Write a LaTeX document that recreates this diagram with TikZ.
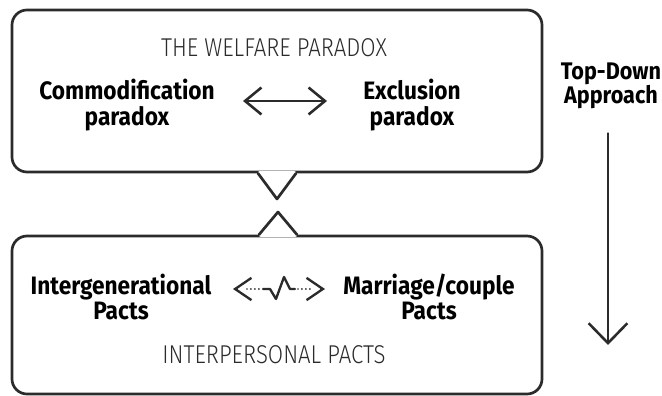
\documentclass[tikz,border=0pt]{standalone}
\usepackage{fontspec}
\setmainfont[FakeStretch=0.9]{Fira Sans}
\newfontfamily\thinfont[FakeStretch=0.86]{Fira Sans Light}
\usetikzlibrary{arrows.meta,positioning,calc}
\definecolor{frame-grey}{rgb}{.17,.17,.17}

\begin{document}
\begin{tikzpicture}[x=0.03cm, y=-0.03cm, line cap=round, line join=round,
  panel/.style={draw=frame-grey, line width=2.3pt, rounded corners=0.45cm, minimum width=15.9cm},
  edge/.style={draw=frame-grey, line width=2.3pt},
  heading/.style={font=\thinfont\fontsize{22}{24}\selectfont, text=frame-grey},
  term/.style={font=\bfseries\fontsize{21.5}{21.5}\selectfont, align=center},
  barb/.style={line width=2.2pt, draw=frame-grey},
  beat/.style={line width=2pt, draw=frame-grey},
  dots/.style={beat, line width=1.7pt, dash pattern=on 0pt off 3.4pt}]
  \useasboundingbox (0,0) rectangle (662,396);

  % welfare panel with its pointer
  \node[panel, minimum height=4.86cm] (welfare) at (277,91) {};
  \coordinate (wtip) at (277,199);
  \draw[white, line width=4pt] ($(welfare.south)+(-17,0)$) -- ($(welfare.south)+(17,0)$);
  \draw[edge] ($(welfare.south)+(-19,0)$) -- (wtip) -- ($(welfare.south)+(19,0)$);

  % pacts panel with its pointer
  \node[panel, minimum height=4.74cm] (pacts) at (277,315) {};
  \coordinate (ptip) at (278,212);
  \draw[white, line width=4pt] ($(pacts.north)+(-16,0)$) -- ($(pacts.north)+(18,0)$);
  \draw[edge] ($(pacts.north)+(-18,0)$) -- (ptip) -- ($(pacts.north)+(20,0)$);

  \node[heading] (welfaretitle) at (274,48) {THE WELFARE PARADOX};
  \node[term] (commod) at (127,105) {Commodification\\paradox};
  \node[term] (exclu) at (412,105) {Exclusion\\paradox};
  \coordinate (commodend) at (243,101);
  \coordinate (excluend) at (327,101);
  \draw[barb, {Straight Barb[length=14pt, width=23pt]}-{Straight Barb[length=14pt, width=23pt]}] (commodend) -- (excluend);

  \node[term] (intergen) at (121,297) {Intergenerational\\Pacts};
  \node[term] (marriage) at (429,297) {Marriage/couple\\Pacts};
  \node[heading] (pactstitle) at (274,355) {INTERPERSONAL PACTS};

  % dotted arrows around the heartbeat
  \coordinate (intertip) at (233,289);
  \coordinate (beatL) at (263,289);
  \coordinate (beatR) at (295,289);
  \coordinate (marrtip) at (325,289);
  \draw[dots] ($(intertip)+(14,0)$) -- ($(beatL)+(-3,0)$);
  \draw[dots] ($(beatR)+(3,0)$) -- ($(marrtip)+(-14,0)$);
  \draw[beat, {Straight Barb[length=14pt, width=19pt]}-] (intertip) -- ++(4,0);
  \draw[beat, -{Straight Barb[length=14pt, width=19pt]}] ($(marrtip)+(-4,0)$) -- (marrtip);
  \draw[beat] (beatL) -- (270,289) -- (276,299) -- (284,277) -- (290,289) -- (beatR);

  % top-down direction
  \node[term, font=\bfseries\fontsize{20.5}{21}\selectfont] (approach) at (611,86) {Top-Down\\Approach};
  \coordinate (approachend) at (608,345);
  \draw[barb, -{Straight Barb[length=17pt, width=33pt]}] (approach.south -| approachend) ++(0,20) -- (approachend);
\end{tikzpicture}
\end{document}
